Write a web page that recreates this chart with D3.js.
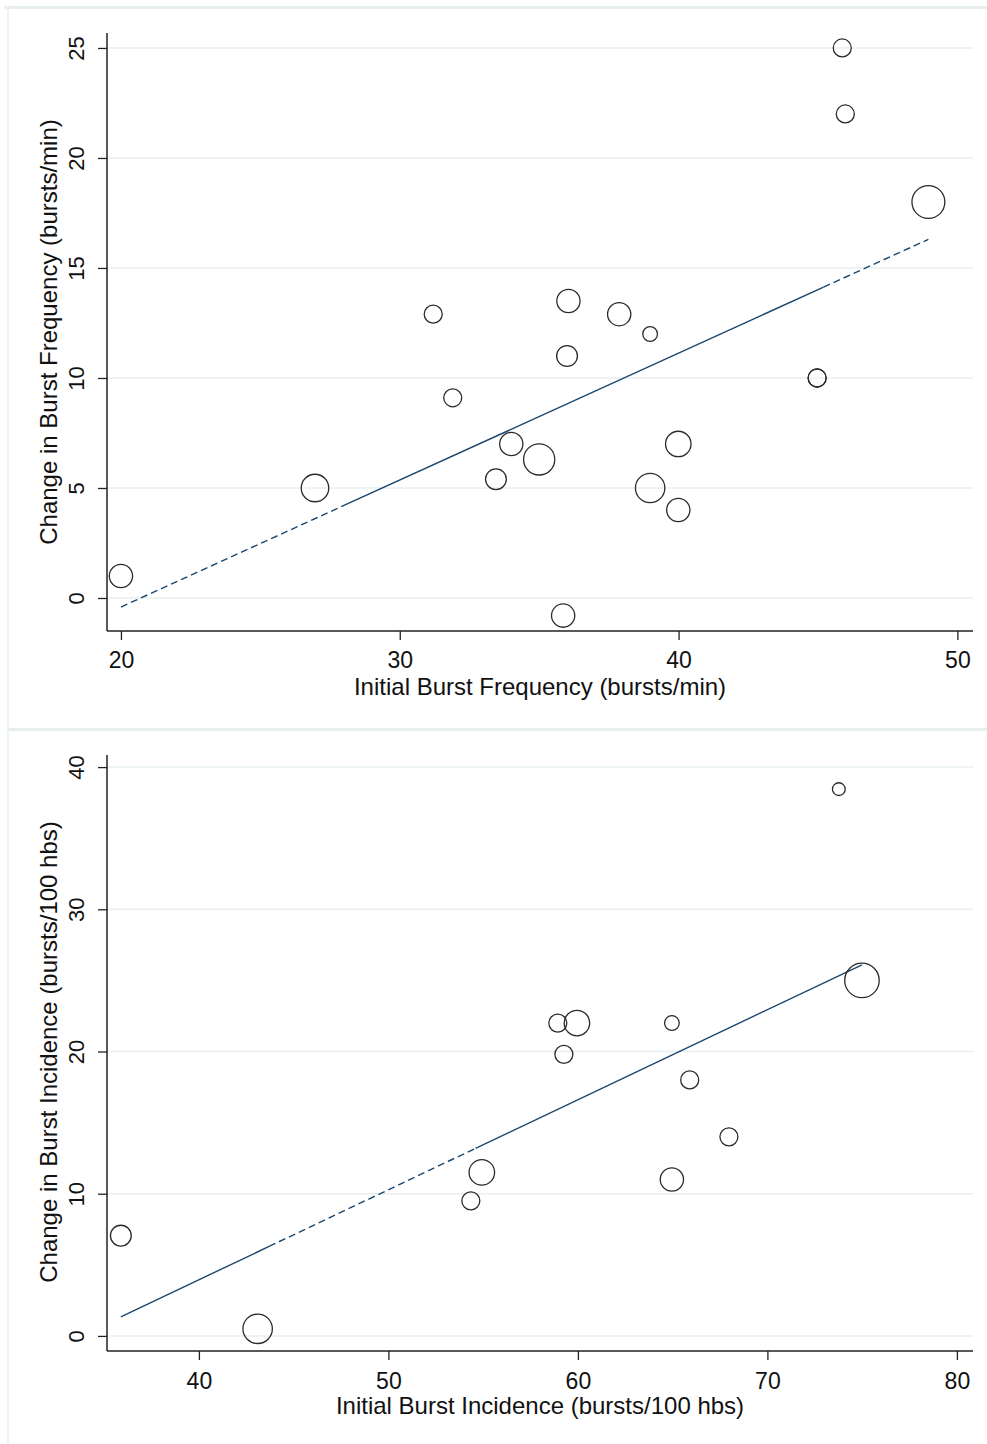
<!DOCTYPE html>
<html>
<head>
<meta charset="utf-8">
<script src="https://cdn.jsdelivr.net/npm/d3@7"></script>
<style>
  html, body { margin: 0; padding: 0; background: #fff; }
  svg { display: block; }
</style>
</head>
<body>
<svg id="chart"></svg>
<script>
// top panel: initial burst frequency vs change
var freqX = [20, 26.96, 31.2, 31.9, 33.45, 34.0, 35.0, 35.86, 36.0, 36.05, 37.87, 38.98, 38.98, 39.99, 39.99, 44.97, 44.97, 45.87, 45.98, 48.96];
var freqY = [1.0, 5.0, 12.9, 9.1, 5.4, 7.0, 6.3, -0.8, 11.0, 13.5, 12.9, 12.0, 5.0, 7.0, 4.0, 10.0, 10.0, 25.0, 22.0, 18.0];
var freqW = [5, 7, 3, 3, 4, 5, 9, 5, 4, 5, 5, 2, 8, 6, 5, 3, 3, 3, 3, 10];
var freqFitX = [20, 48.96];
var freqFitY = [-0.41, 16.3];
var freqXTicks = [20, 30, 40, 50];
var freqYTicks = [0, 5, 10, 15, 20, 25];

// bottom panel: initial burst incidence vs change
var incX = [35.88, 43.1, 54.35, 54.93, 58.94, 59.95, 59.26, 64.96, 65.9, 64.96, 67.97, 73.77, 74.99];
var incY = [7.05, 0.5, 9.5, 11.5, 22.0, 22.0, 19.8, 22.0, 18.0, 11.0, 14.0, 38.45, 25.0];
var incW = [4, 8, 3, 6, 3, 6, 3, 2, 3, 5, 3, 1.5, 11];
var incFitX = [35.88, 74.99];
var incFitY = [1.34, 26.1];
var incXTicks = [40, 50, 60, 70, 80];
var incYTicks = [0, 10, 20, 30, 40];

var width = 987, height = 1444;
var svg = d3.select('#chart').attr('width', width).attr('height', height);
var font = '"Liberation Sans", Arial, sans-serif';
var gridColor = '#e8eff1';
var lineColor = '#1a476f';

svg.append('rect').attr('width', width).attr('height', height).attr('fill', '#fff');

// panel frames (light separators)
svg.append('rect').attr('x', 4).attr('y', 6).attr('width', width - 4).attr('height', 3).attr('fill', '#e6eef0');
svg.append('rect').attr('x', 7).attr('y', 6).attr('width', 2).attr('height', height - 6).attr('fill', '#eef3f5');
svg.append('rect').attr('x', 7).attr('y', 728).attr('width', width - 7).attr('height', 3).attr('fill', '#e6eef0');

var rScale = d3.scaleSqrt().domain([0, 1]).range([0, 5.2]);

function panel(opts) {
    var x = d3.scaleLinear().domain(opts.xDomain).range([107, 973]);
    var y = d3.scaleLinear().domain(opts.yDomain).range([opts.bottom, opts.top]);
    var g = svg.append('g');

    // gridlines
    g.selectAll('line.grid')
        .data(opts.yTicks)
        .enter().append('line')
        .attr('class', 'grid')
        .attr('x1', 107).attr('x2', 973)
        .attr('y1', function(d) { return y(d); })
        .attr('y2', function(d) { return y(d); })
        .attr('stroke', gridColor)
        .attr('stroke-width', 1.5);

    // fitted line, split into dashed / solid pieces like the original render
    var fit = d3.scaleLinear().domain(opts.fitX).range(opts.fitY);
    var line = d3.line()
        .x(function(d) { return x(d); })
        .y(function(d) { return y(fit(d)); });
    opts.pieces.forEach(function(p) {
        g.append('path')
            .datum([p[0], p[1]])
            .attr('d', line)
            .attr('fill', 'none')
            .attr('stroke', lineColor)
            .attr('stroke-width', 1.4)
            .attr('stroke-dasharray', p[2] ? '7,4' : null);
    });

    // markers
    g.selectAll('circle')
        .data(opts.xs)
        .enter().append('circle')
        .attr('cx', function(d) { return x(d); })
        .attr('cy', function(d, i) { return y(opts.ys[i]); })
        .attr('r', function(d, i) { return rScale(opts.ws[i]); })
        .attr('fill', 'none')
        .attr('stroke', '#2b2b2b')
        .attr('stroke-width', 1.3);

    // axes
    var xAxis = d3.axisBottom(x).tickValues(opts.xTicks).tickSize(9).tickPadding(6);
    var yAxis = d3.axisLeft(y).tickValues(opts.yTicks).tickSize(9).tickPadding(6);

    var gx = g.append('g').attr('transform', 'translate(0,' + opts.bottom + ')').call(xAxis);
    gx.select('.domain').attr('d', 'M107,0H973').attr('stroke', '#222').attr('stroke-width', 1.5);
    gx.selectAll('.tick line').attr('stroke', '#222').attr('stroke-width', 1.3);
    gx.selectAll('.tick text')
        .attr('font-family', font).attr('font-size', 23).attr('fill', '#111')
        .attr('dy', null).attr('y', opts.xLabelY - opts.bottom);

    var gy = g.append('g').attr('transform', 'translate(107,0)').call(yAxis);
    gy.select('.domain').attr('d', 'M0,' + opts.top + 'V' + opts.bottom).attr('stroke', '#222').attr('stroke-width', 1.5);
    gy.selectAll('.tick line').attr('stroke', '#222').attr('stroke-width', 1.3);
    gy.selectAll('.tick text')
        .attr('font-family', font).attr('font-size', 22).attr('fill', '#111')
        .attr('x', null).attr('dy', null)
        .attr('text-anchor', 'middle')
        .attr('transform', 'translate(-23,0) rotate(-90)');

    // titles
    svg.append('text')
        .attr('x', 540).attr('y', opts.xTitleY)
        .attr('text-anchor', 'middle')
        .attr('font-family', font).attr('font-size', 24).attr('fill', '#111')
        .text(opts.xTitle);

    svg.append('text')
        .attr('transform', 'translate(57,' + opts.yTitleMid + ') rotate(-90)')
        .attr('text-anchor', 'middle')
        .attr('font-family', font).attr('font-size', 24).attr('fill', '#111')
        .text(opts.yTitle);
}

panel({
    xs: freqX, ys: freqY, ws: freqW,
    fitX: freqFitX, fitY: freqFitY,
    xTicks: freqXTicks, yTicks: freqYTicks,
    xDomain: [19.5, 50.56], yDomain: [-1.5, 25.68],
    top: 33, bottom: 631,
    pieces: [[20, 27.9, true], [27.9, 45.2, false], [45.2, 48.96, true]],
    xLabelY: 668, xTitleY: 695, yTitleMid: 332,
    xTitle: 'Initial Burst Frequency (bursts/min)',
    yTitle: 'Change in Burst Frequency (bursts/min)'
});

panel({
    xs: incX, ys: incY, ws: incW,
    fitX: incFitX, fitY: incFitY,
    xTicks: incXTicks, yTicks: incYTicks,
    xDomain: [35.15, 80.85], yDomain: [-1.06, 40.85],
    top: 755, bottom: 1351,
    pieces: [[35.88, 43.7, false], [43.7, 54.6, true], [54.6, 74.99, false]],
    xLabelY: 1389, xTitleY: 1414, yTitleMid: 1052,
    xTitle: 'Initial Burst Incidence (bursts/100 hbs)',
    yTitle: 'Change in Burst Incidence (bursts/100 hbs)'
});
</script>
</body>
</html>
